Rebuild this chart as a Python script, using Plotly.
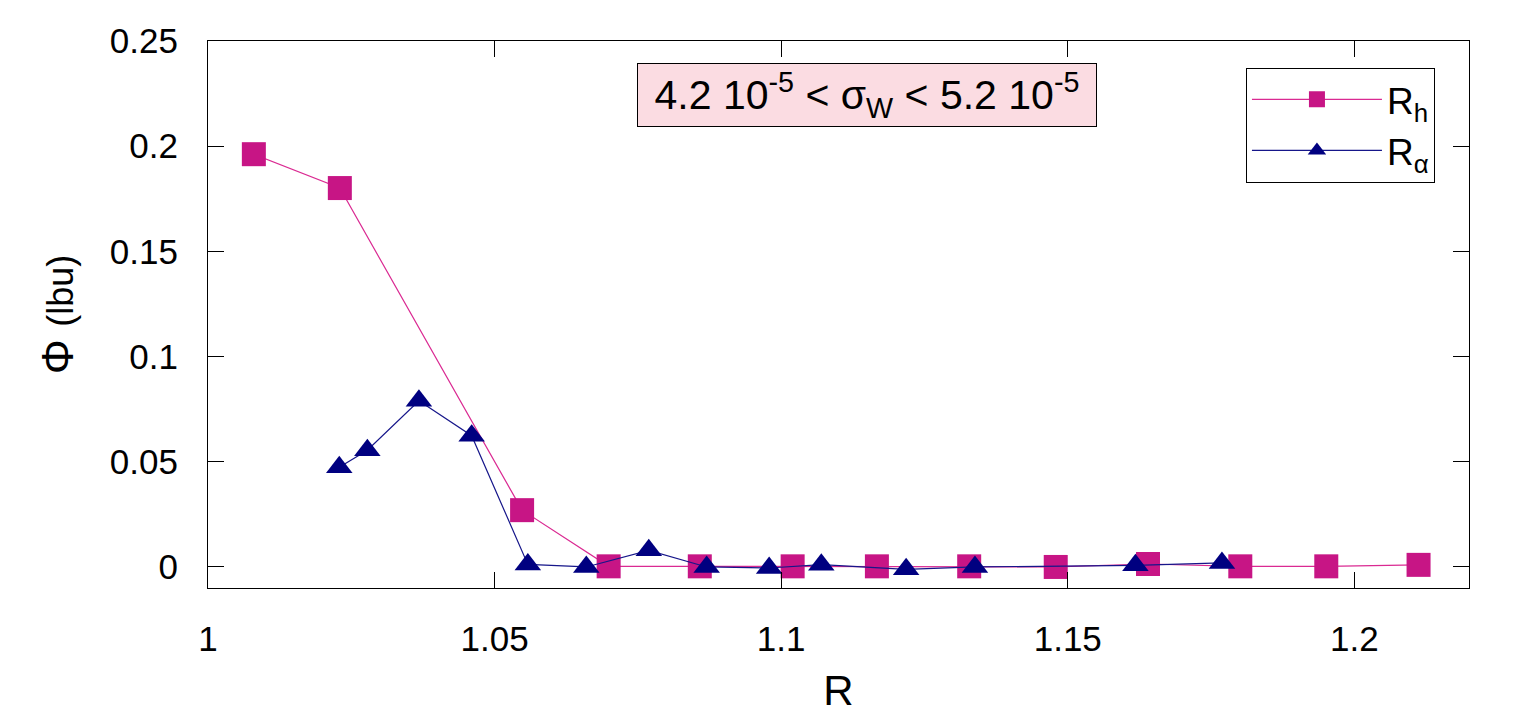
import plotly.graph_objects as go

# Data
rh_R = [1.008, 1.023, 1.0548, 1.0699, 1.0858, 1.102, 1.1167, 1.1328, 1.1479, 1.164, 1.1801, 1.1951, 1.2112]
rh_phi = [0.1962, 0.1801, 0.027, 0.0003, 0.0003, 0.0003, 0.0003, 0.0003, 0.0, 0.0014, 0.0003, 0.0003, 0.001]

ra_R = [1.0229, 1.0278, 1.0368, 1.046, 1.0558, 1.066, 1.0769, 1.087, 1.0979, 1.107, 1.1218, 1.1338, 1.1618, 1.1769]
ra_phi = [0.0474, 0.0555, 0.079, 0.0624, 0.0012, 0.0, 0.0079, 0.0, -0.0005, 0.0011, -0.0011, 0.0, 0.0008, 0.0019]

x_ticks = [1, 1.05, 1.1, 1.15, 1.2]
x_ticklabels = ["1", "1.05", "1.1", "1.15", "1.2"]
y_ticks = [0, 0.05, 0.1, 0.15, 0.2, 0.25]
y_ticklabels = ["0", "0.05", "0.1", "0.15", "0.2", "0.25"]

FONT = "Liberation Sans, Arial, sans-serif"

fig = go.Figure()
fig.add_trace(go.Scatter(
    x=rh_R, y=rh_phi, mode="lines+markers", name="R<sub>h</sub>",
    line=dict(color="#DA2A92", width=1.2),
    marker=dict(symbol="square", size=24, color="#C71585"),
))
fig.add_trace(go.Scatter(
    x=ra_R, y=ra_phi, mode="lines+markers", name="R<sub>α</sub>",
    line=dict(color="#16168A", width=1.2),
    marker=dict(symbol="triangle-up", size=23, color="#000080"),
))

axis_common = dict(
    showline=True, linecolor="black", linewidth=1.2, mirror="ticks",
    ticks="inside", ticklen=16, tickwidth=1, tickcolor="black",
    showgrid=False, zeroline=False,
    tickfont=dict(family=FONT, size=35, color="black"),
)

fig.update_xaxes(
    range=[1, 1.22], tickvals=x_ticks, ticktext=x_ticklabels,
    ticklabelstandoff=20,
    title=dict(text="R", font=dict(family=FONT, size=42, color="black"), standoff=18),
    **axis_common,
)
fig.update_yaxes(
    range=[-0.01, 0.25], tickvals=y_ticks, ticktext=y_ticklabels,
    ticklabelstandoff=22,
    title=dict(text="Φ <span style='font-size:36px'>(lbu)</span>",
               font=dict(family=FONT, size=44, color="black"), standoff=22),
    **axis_common,
)

fig.add_annotation(
    xref="paper", yref="paper", x=0.5226, y=0.901,
    xanchor="center", yanchor="middle",
    text="4.2 10<sup>-5</sup> < σ<sub>W</sub> < 5.2 10<sup>-5</sup>",
    showarrow=False, font=dict(family=FONT, size=41, color="black"),
    bgcolor="#FBDCE2", bordercolor="black", borderwidth=1, borderpad=0,
    width=458, height=62, align="center", valign="middle",
)

fig.update_layout(
    width=1536, height=716,
    margin=dict(l=208, r=67, t=41, b=128),
    paper_bgcolor="white", plot_bgcolor="white",
    showlegend=True,
    legend=dict(
        x=0.973, y=0.951, xanchor="right", yanchor="top",
        bgcolor="white", bordercolor="black", borderwidth=1,
        font=dict(family=FONT, size=37, color="black"),
        itemwidth=130, tracegroupgap=0,
    ),
)

fig.write_html("out.html")
